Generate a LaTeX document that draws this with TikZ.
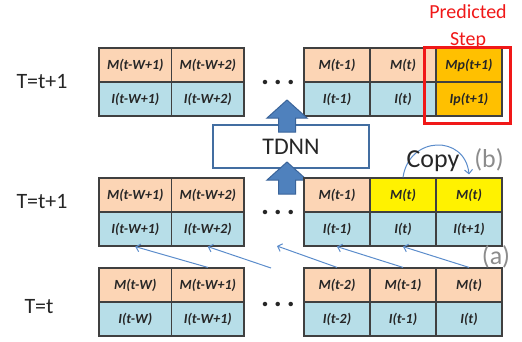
\documentclass[tikz,border=0pt]{standalone}
\usepackage{fontspec}
\setmainfont{Carlito}
\usetikzlibrary{arrows.meta}

\definecolor{peach}{HTML}{FCD5B5}
\definecolor{paleblue}{HTML}{B7DEE8}
\definecolor{predorange}{HTML}{FFC000}
\definecolor{cellline}{HTML}{404040}
\definecolor{arrowblue}{HTML}{4F81BD}
\definecolor{arrowedge}{HTML}{3A649A}
\definecolor{shiftblue}{HTML}{5B8CCB}
\definecolor{labelgray}{HTML}{8C8C8C}
\definecolor{predred}{HTML}{F01818}

\tikzset{
  cell/.style={draw=cellline, line width=1.2bp, minimum height=34bp, inner sep=0pt,
    text=black!85, font=\fontsize{14}{16}\selectfont\bfseries\itshape},
  mcell/.style={cell, fill=peach},
  icell/.style={cell, fill=paleblue},
  ycell/.style={cell, fill=yellow},
  pcell/.style={cell, fill=predorange},
  wl/.style={minimum width=72.5bp},
  wr/.style={minimum width=66bp},
  rowlabel/.style={font=\fontsize{22}{26}\selectfont, text=black!85},
  dotsnode/.style={font=\fontsize{30}{34}\selectfont\bfseries, inner sep=0pt, text=black!85},
  tdnnbox/.style={draw=arrowblue!85!black, line width=2bp, fill=white, minimum width=156bp,
    minimum height=43bp, font=\fontsize{24}{28}\selectfont, text=black!85},
  bigarrow/.style={fill=arrowblue, draw=arrowedge, line width=1bp, line join=miter},
  bigup/.pic={\draw[bigarrow] (0,0) -- (20,18) -- (8.5,18) -- (8.5,32) -- (-8.5,32)
    -- (-8.5,18) -- (-20,18) -- cycle;},
  shiftarrow/.style={draw=shiftblue, line width=1bp, -{Straight Barb[length=4bp,width=8bp]}},
  copyarrow/.style={draw=shiftblue, line width=1bp, -{Straight Barb[length=4bp,width=8bp]}},
  predbox/.style={draw=predred, line width=3bp},
  sidelabel/.style={font=\fontsize{26}{30}\selectfont, text=labelgray},
}

\begin{document}
\begin{tikzpicture}[x=1bp, y=-1bp]
    \useasboundingbox (0,0) rectangle (522,341);

    % T=t+1 with the predicted step
    \node[rowlabel] (lbltop) at (42,82) {T=t+1};
    \node[mcell, wl] (tm1) at (135.25,65) {M(t-W+1)};
    \node[mcell, wl] (tm2) at (207.75,65) {M(t-W+2)};
    \node[icell, wl] (ti1) at (135.25,99) {I(t-W+1)};
    \node[icell, wl] (ti2) at (207.75,99) {I(t-W+2)};
    \node[dotsnode] (tdots) at (278,82) {.\,.\,.};
    \node[mcell, wr] (tm3) at (337,65) {M(t-1)};
    \node[mcell, wr] (tm4) at (403,65) {M(t)};
    \node[pcell, wr] (tm5) at (469,65) {Mp(t+1)};
    \node[icell, wr] (ti3) at (337,99) {I(t-1)};
    \node[icell, wr] (ti4) at (403,99) {I(t)};
    \node[pcell, wr] (ti5) at (469,99) {Ip(t+1)};

    \draw[predbox] ([xshift=-11bp]tm5.north west) rectangle ([shift={(8bp,-7bp)}]ti5.south east);
    \node[text=predred, font=\fontsize{20}{27}\selectfont, align=center] (pred) at (468,27) {Predicted\\Step};

    % network
    \node[tdnnbox] (tdnn) at (291,146.5) {TDNN};
    \pic at (287,100) {bigup};
    \pic at (287,162) {bigup};

    % T=t+1 after shift and copy
    \node[rowlabel] (lblmid) at (42,202) {T=t+1};
    \node[mcell, wl] (mm1) at (135.25,195) {M(t-W+1)};
    \node[mcell, wl] (mm2) at (207.75,195) {M(t-W+2)};
    \node[icell, wl] (mi1) at (135.25,229) {I(t-W+1)};
    \node[icell, wl] (mi2) at (207.75,229) {I(t-W+2)};
    \node[dotsnode] (mdots) at (278,212) {.\,.\,.};
    \node[mcell, wr] (mm3) at (337,195) {M(t-1)};
    \node[ycell, wr] (mm4) at (403,195) {M(t)};
    \node[ycell, wr] (mm5) at (469,195) {M(t)};
    \node[icell, wr] (mi3) at (337,229) {I(t-1)};
    \node[icell, wr] (mi4) at (403,229) {I(t)};
    \node[icell, wr] (mi5) at (469,229) {I(t+1)};

    \draw[copyarrow] (mm4.north) .. controls +(6,-42) and +(-4,-40) .. ([yshift=3bp]mm5.north);
    \node[font=\fontsize{26}{30}\selectfont, text=black!85, anchor=base] (copy) at (433,167) {Copy};
    \node[sidelabel, anchor=base] (lblb) at (489,167) {(b)};

    % T=t
    \node[rowlabel] (lblbot) at (39,307) {T=t};
    \node[mcell, wl] (bm1) at (135.25,285) {M(t-W)};
    \node[mcell, wl] (bm2) at (207.75,285) {M(t-W+1)};
    \node[icell, wl] (bi1) at (135.25,319) {I(t-W)};
    \node[icell, wl] (bi2) at (207.75,319) {I(t-W+1)};
    \node[dotsnode] (bdots) at (278,304) {.\,.\,.};
    \node[mcell, wr] (bm3) at (337,285) {M(t-2)};
    \node[mcell, wr] (bm4) at (403,285) {M(t-1)};
    \node[mcell, wr] (bm5) at (469,285) {M(t)};
    \node[icell, wr] (bi3) at (337,319) {I(t-2)};
    \node[icell, wr] (bi4) at (403,319) {I(t-1)};
    \node[icell, wr] (bi5) at (469,319) {I(t)};

    % shift by one step
    \coordinate (bgap) at (271,268);
    \coordinate (mgap) at (277,246);
    \draw[shiftarrow] (bm2.north) -- (mi1.south);
    \draw[shiftarrow] (bgap) -- (mi2.south);
    \draw[shiftarrow] (bm3.north) -- (mgap);
    \draw[shiftarrow] (bm4.north) -- (mi3.south);
    \draw[shiftarrow] (bm5.north) -- (mi4.south);
    \node[sidelabel] (lbla) at (496,257) {(a)};

\end{tikzpicture}
\end{document}
